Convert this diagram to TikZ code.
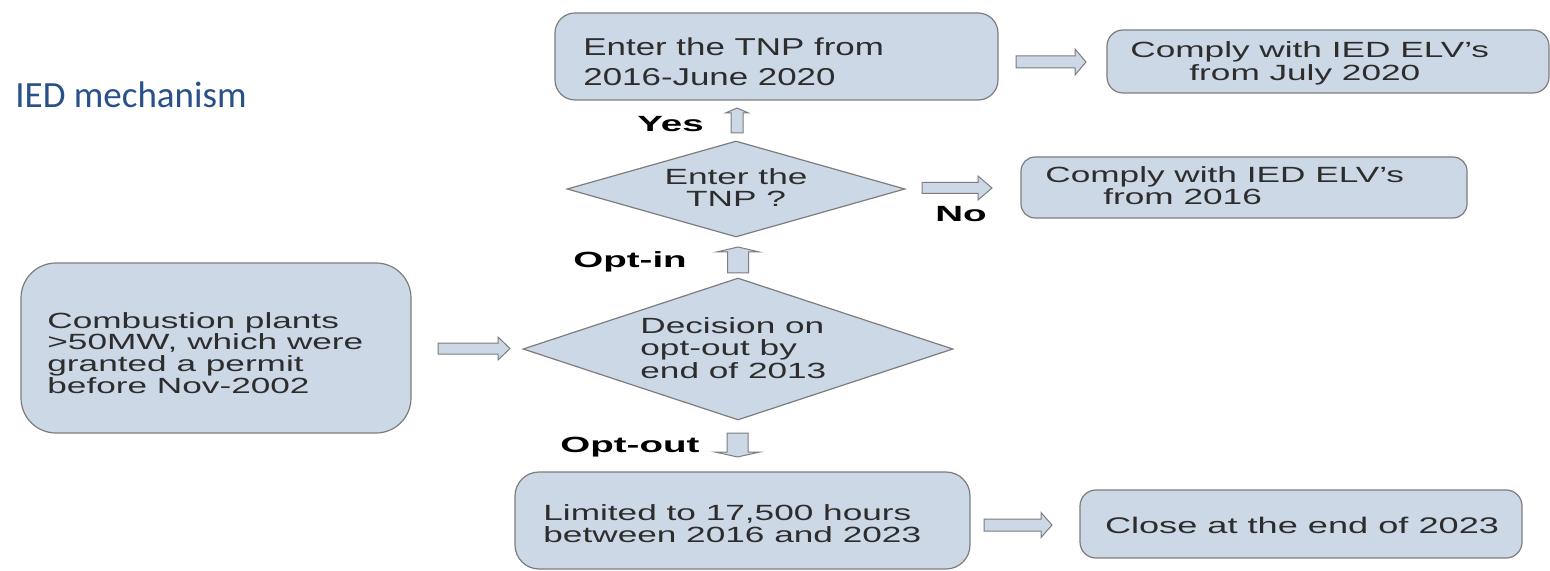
\documentclass[tikz,border=0pt]{standalone}
\usepackage{fontspec}
\setmainfont{Liberation Sans}[FakeStretch=1.6]
\newfontfamily\topfont{Liberation Sans}[FakeStretch=1.43]
\newfontfamily\labfont{Liberation Sans}[FakeStretch=1.75]
\newfontfamily\titlefont{Carlito}
\usetikzlibrary{shapes.geometric}
\definecolor{boxfill}{RGB}{205,216,231}
\definecolor{boxline}{RGB}{125,125,125}
\definecolor{boxtext}{RGB}{45,45,45}
\definecolor{titleblue}{RGB}{40,80,138}
\tikzset{
  flowbox/.style={draw=boxline, fill=boxfill, line width=0.6pt, inner sep=0pt},
  decision/.style={diamond, draw=boxline, fill=boxfill, line width=0.6pt, inner sep=0pt},
  % multi-line texts are placed by the baseline of their last line
  boxtxt/.style={inner sep=0pt, anchor=base west, align=left, text=boxtext,
    font=\fontsize{11}{11}\selectfont},
  lab/.style={inner sep=0pt, anchor=base west, font=\labfont\bfseries\fontsize{11}{11}\selectfont},
  blockarrow/.style={draw=boxline, fill=boxfill, line width=0.5pt, line join=miter},
  % horizontal block arrow: length / shaft half-width / head half-width / head length
  pics/harrow/.style args={#1/#2/#3/#4}{code={
    \draw[blockarrow] (0,-#2) -- ({#1-#4},-#2) -- ({#1-#4},-#3) -- (#1,0)
      -- ({#1-#4},#3) -- ({#1-#4},#2) -- (0,#2) -- cycle;}},
  % downward block arrow (same parameters)
  pics/darrow/.style args={#1/#2/#3/#4}{code={
    \draw[blockarrow] (-#2,0) -- (-#2,{#1-#4}) -- (-#3,{#1-#4}) -- (0,#1)
      -- (#3,{#1-#4}) -- (#2,{#1-#4}) -- (#2,0) -- cycle;}},
  % upward block arrow (same parameters)
  pics/uarrow/.style args={#1/#2/#3/#4}{code={
    \draw[blockarrow] (-#2,0) -- (-#2,{#4-#1}) -- (-#3,{#4-#1}) -- (0,-#1)
      -- (#3,{#4-#1}) -- (#2,{#4-#1}) -- (#2,0) -- cycle;}},
}
\begin{document}
\begin{tikzpicture}[x=0.5pt, y=-0.5pt]
\useasboundingbox[fill=white] (0,0) rectangle (1550,571);

% heading
\node[inner sep=0pt, anchor=base west, text=titleblue,
  font=\titlefont\fontsize{18.5}{18.5}\selectfont] (title) at (15,108) {IED mechanism};

% boxes
\node[flowbox, rounded corners=10pt, minimum width=221.5pt, minimum height=43.5pt]
  (tnp) at (776.5,56.5) {};
\node[flowbox, rounded corners=8pt, minimum width=221pt, minimum height=31.5pt]
  (july) at (1328,61.5) {};
\node[flowbox, rounded corners=7pt, minimum width=223pt, minimum height=30.5pt]
  (from16) at (1244,187.5) {};
\node[flowbox, rounded corners=17.5pt, minimum width=195pt, minimum height=85pt]
  (plants) at (216,348) {};
\node[flowbox, rounded corners=12pt, minimum width=227.5pt, minimum height=48.5pt]
  (limited) at (742.5,520.5) {};
\node[flowbox, rounded corners=8pt, minimum width=221pt, minimum height=34pt]
  (close) at (1301,524) {};
\node[decision, minimum width=169pt, minimum height=48pt] (enter) at (736,189) {};
\node[decision, minimum width=215pt, minimum height=71pt] (optout) at (738,349) {};

% texts
\node[boxtxt, font=\topfont\fontsize{12.2}{15}\selectfont] (tnp-t) at (583,86)
  {Enter the TNP from\\2016-June 2020};
\node[boxtxt, font=\fontsize{11}{11.5}\selectfont] (july-t) at (1130,81)
  {Comply with IED ELV’s\\\hspace*{29.5pt}from July 2020};
\node[boxtxt, font=\fontsize{11}{9.2}\selectfont] (from16-t) at (1045,205)
  {Comply with IED ELV’s\\\hspace*{29pt}from 2016};
\node[boxtxt, align=center, anchor=base] (enter-t) at (736,207) {Enter the\\TNP ?};
\node[boxtxt, font=\fontsize{11}{10.8}\selectfont] (plants-t) at (47,393)
  {Combustion plants\\>50MW, which were\\granted a permit\\before Nov-2002};
\node[boxtxt, font=\fontsize{11}{11.2}\selectfont] (optout-t) at (640,378)
  {Decision on\\opt-out by\\end of 2013};
\node[boxtxt, font=\fontsize{11}{11}\selectfont] (limited-t) at (543,542)
  {Limited to 17,500 hours\\between 2016 and 2023};
\node[boxtxt, anchor=center, font=\fontsize{11.3}{11.3}\selectfont] (close-t) at (1302,525)
  {Close at the end of 2023};

% branch labels
\node[lab] (yes) at (637,132) {Yes};
\node[lab] (no) at (935,222) {No};
\node[lab] (optin-l) at (573,268) {Opt-in};
\node[lab] (optout-l) at (560,452) {Opt-out};

% block arrows
\pic at (1016,62) {harrow=70/6/13/11};
\pic at (922,188) {harrow=70/5.5/12/14};
\pic at (438,348.5) {harrow=72/5.5/11.5/12};
\pic at (984,525) {harrow=68/6/12.5/11};
\pic at (737,133) {uarrow=25/6/11.5/5};
\pic at (738,273) {uarrow=26/10.5/21.5/5};
\pic at (737.5,433) {darrow=24/10.5/22.5/5};
\end{tikzpicture}
\end{document}
